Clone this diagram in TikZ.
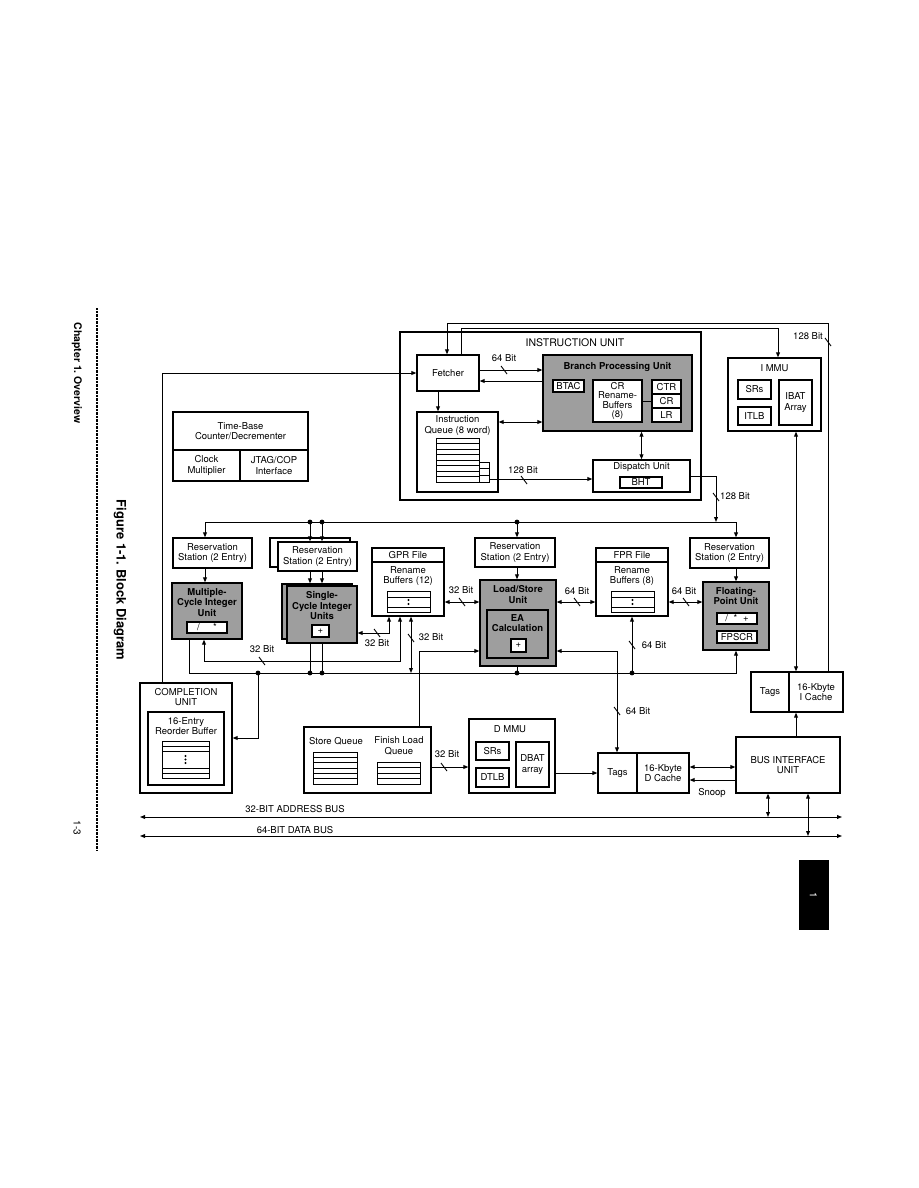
\documentclass[tikz,border=0pt]{standalone}
\usepackage{fontspec}
\setmainfont{TeX Gyre Heros}
\usetikzlibrary{arrows.meta}
\newcommand{\boxfont}{\fontsize{9.5}{10.5}\selectfont}
\newcommand{\renbuf}[2]{%
  \draw[line width=0.8pt] (#1,#2) rectangle ++(43,21);
  \draw[line width=0.8pt] (#1,#2+6) -- ++(43,0) (#1,#2+16) -- ++(43,0);
  \fill (#1+21.5,#2+9) circle (1.2pt) (#1+21.5,#2+13) circle (1.2pt);}

\begin{document}
\begin{tikzpicture}[x=1pt, y=-1pt, line width=1pt,
  sz/.style 2 args={minimum width=#1pt, minimum height=#2pt},
  box/.style={draw, line width=1.2pt, fill=white, inner sep=0pt, align=center, font=\boxfont},
  unit/.style={box, fill=black!38},
  ttl/.style={inner sep=0pt, align=center, font=\boxfont},
  hd/.style={inner sep=0pt, align=center, font=\boxfont\bfseries},
  arr/.style={-{Triangle[length=5pt,width=3.8pt]}},
  darr/.style={{Triangle[length=5pt,width=3.8pt]}-{Triangle[length=5pt,width=3.8pt]}},
  bitmark/.pic={\draw[line width=0.9pt] (-3,-4) -- (3,4);}
]
\useasboundingbox (0,0) rectangle (918,1188);

\node[rotate=-90, font=\fontsize{10.5}{12}\selectfont\bfseries] (chap) at (77,373) {Chapter 1.\ Overview};
\node[rotate=-90, font=\fontsize{13}{15}\selectfont\bfseries] (fig) at (120,580) {Figure 1-1.\ Block Diagram};
\node[rotate=-90, font=\fontsize{10}{12}\selectfont] (pgno) at (77,828) {1-3};
\draw[line width=1.4pt, dash pattern=on 0.7pt off 0.7pt] (97,308) -- (97,850);
\node[fill=black, sz={30}{70}] (tab) at (813.5,895) {};
\node[rotate=-90, text=white, font=\fontsize{10}{12}\selectfont] (tabno) at (tab) {1};

% instruction unit
\node[box, sz={301}{168}] (iu) at (550.5,416) {};
\node[ttl, font=\fontsize{10.5}{12}\selectfont] (iut) at (575,343) {INSTRUCTION UNIT};
\node[box, sz={62}{36}] (fetch) at (448,373) {Fetcher};
\node[unit, sz={149}{76}] (bpu) at (617.5,393) {};
\node[hd] (bput) at (617.5,367) {Branch Processing Unit};
\node[box, sz={31}{12}] (btac) at (568.5,386) {BTAC};
\node[box, sz={49}{42}, font=\fontsize{9.5}{9.6}\selectfont] (crrb) at (617.5,401) {CR\\Rename-\\Buffers\\(8)};
\node[box, sz={29}{14}] (ctr) at (666.5,387) {CTR};
\node[box, sz={29}{14}] (crr) at (666.5,401) {CR};
\node[box, sz={29}{14}] (lr) at (666.5,415) {LR};
\draw (crrb.east) -- (crr.west);
\node[box, sz={81}{80}] (iq) at (457.5,452) {};
\node[ttl] (iqt) at (457.5,425.5) {Instruction\\Queue (8 word)};
\foreach \i in {0,...,7} \draw[line width=0.8pt] (436,{438+5.5*\i}) rectangle ++(43,5.5);
\foreach \i in {0,1,2} \draw[line width=0.8pt] (479,{462+6.67*\i}) rectangle ++(10,6.67);
\coordinate (iqo) at (489,479);
\node[box, sz={97}{32}] (disp) at (641.5,476) {};
\node[ttl] (dispt) at (641.5,467) {Dispatch Unit};
\node[box, sz={42}{11}] (bht) at (641,482.5) {BHT};

% mmu, time base
\node[box, sz={93}{73}] (immu) at (774.5,394.5) {};
\node[ttl] (immut) at (774.5,368) {I MMU};
\node[box, sz={33}{19}] (isr) at (754.5,389.5) {SRs};
\node[box, sz={33}{18}] (itlb) at (754.5,416) {ITLB};
\node[box, sz={33}{45}] (ibat) at (795.5,402.5) {IBAT\\Array};
\node[box, sz={135}{38}] (tbc) at (240.5,431) {Time-Base\\Counter/Decrementer};
\node[box, sz={67}{31}] (clk) at (206.5,465.5) {Clock\\Multiplier};
\node[box, sz={68}{31}] (jtag) at (274,465.5) {JTAG/COP\\Interface};

% reservation stations and execution units
\node[box, sz={79}{30}] (rs1) at (212.5,553) {Reservation\\Station (2 Entry)};
\node[box, sz={80}{29}] (rs2b) at (310,552.5) {};
\node[box, sz={79}{29}] (rs2) at (317.5,556.5) {Reservation\\Station (2 Entry)};
\node[box, sz={80}{29}] (rs3) at (515,552.5) {Reservation\\Station (2 Entry)};
\node[box, sz={79}{30}] (rs4) at (729.5,553) {Reservation\\Station (2 Entry)};
\node[unit, sz={70}{56}] (mciu) at (207,611) {};
\node[hd] (mciut) at (207,602.5) {Multiple-\\Cycle Integer\\Unit};
\node[box, sz={40}{11}] (mdiv) at (207,627.5) {/\hspace{1.4em}*};
\node[unit, sz={70}{55}] (sciub) at (317,611.5) {};
\node[unit, sz={70}{57}] (sciu) at (322,614.5) {};
\node[hd] (sciut) at (322,606) {Single-\\Cycle Integer\\Units};
\node[box, sz={17}{12}] (sadd) at (320.5,631) {+};
\node[unit, sz={76}{86}] (lsu) at (518,623) {};
\node[hd] (lsut) at (518,594.5) {Load/Store\\Unit};
\node[unit, sz={61}{48}] (ea) at (517.5,634) {};
\node[hd] (eat) at (517.5,623) {EA\\Calculation};
\node[box, sz={15}{13}] (eaadd) at (518.5,645.5) {+};
\node[unit, sz={66}{68}] (fpu) at (736,616) {};
\node[hd] (fput) at (736,596) {Floating-\\Point Unit};
\node[box, sz={40}{11}] (fops) at (737,618.5) {/\hspace{0.6em}*\hspace{0.6em}+};
\node[box, sz={40}{12}] (fpscr) at (737,637) {FPSCR};
\node[box, sz={72}{68}] (gpr) at (408,582) {};
\draw[line width=1.2pt] (372,562) -- (444,562);
\node[ttl] (gprt) at (408,555) {GPR File};
\node[ttl] (gprr) at (408,576) {Rename\\Buffers (12)};
\renbuf{387}{591}
\node[box, sz={72}{68}] (fpr) at (632,582) {};
\draw[line width=1.2pt] (596,562) -- (668,562);
\node[ttl] (fprt) at (632,555) {FPR File};
\node[ttl] (fprr) at (632,576) {Rename\\Buffers (8)};
\renbuf{611}{591}

% completion, queues, data side
\node[box, sz={92}{110}] (comp) at (186,738) {};
\node[ttl] (compt) at (186,697) {COMPLETION\\UNIT};
\node[box, sz={76}{73}] (rob) at (186,748.5) {};
\node[ttl] (robt) at (186,726) {16-Entry\\Reorder Buffer};
\draw[line width=0.8pt] (162,741) rectangle (209,778);
\draw[line width=0.8pt] (162,746) -- (209,746) (162,751) -- (209,751) (162,768) -- (209,768) (162,773) -- (209,773);
\fill (185.5,756) circle (1.2pt) (185.5,759.5) circle (1.2pt) (185.5,763) circle (1.2pt);
\node[box, sz={127}{66}] (sq) at (367.5,760) {};
\node[ttl] (sqt) at (336,741) {Store Queue};
\node[ttl] (flqt) at (399,746) {Finish Load\\Queue};
\foreach \i in {0,...,5} \draw[line width=0.8pt] (313,{752+5.33*\i}) rectangle ++(44,5.33);
\foreach \i in {0,...,3} \draw[line width=0.8pt] (377,{762+5.5*\i}) rectangle ++(43,5.5);
\node[box, sz={86}{74}] (dmmu) at (512,756) {};
\node[ttl] (dmmut) at (510,729) {D MMU};
\node[box, sz={33}{18}] (dsr) at (492.5,751) {SRs};
\node[box, sz={33}{19}] (dtlb) at (492.5,777.5) {DTLB};
\node[box, sz={33}{45}] (dbat) at (532.5,764.5) {DBAT\\array};
\node[box, sz={39}{40}] (dtags) at (617.5,773) {Tags};
\node[box, sz={52}{40}] (dcache) at (663,773) {16-Kbyte\\D Cache};
\node[box, sz={104}{56}] (biu) at (788,765) {BUS INTERFACE\\UNIT};
\node[box, sz={38}{40}] (itags) at (770,692) {Tags};
\node[box, sz={54}{40}] (icache) at (816,692) {16-Kbyte\\I Cache};

% wire points
\coordinate (wc) at (162,373);
\coordinate (ta) at (828,323);
\coordinate (tb) at (447,323);
\coordinate (ua) at (461,328);
\coordinate (ub) at (778,328);
\coordinate (q1) at (520,422);
\coordinate (q2) at (438,400);
\coordinate (dd) at (716,522);
\coordinate (d1) at (205,522);
\coordinate (d2) at (310,522);
\coordinate (d3) at (322,522);
\coordinate (d4) at (517,522);
\coordinate (d5) at (736,522);
\coordinate (r0) at (189,673);
\coordinate (rc) at (258,673);
\coordinate (r2) at (310,673);
\coordinate (r3) at (322,673);
\coordinate (rg) at (411,673);
\coordinate (rl) at (517,673);
\coordinate (rf) at (632,673);
\coordinate (r5) at (736,673);
\coordinate (g1) at (460,602);
\coordinate (s1) at (389,633);
\coordinate (m1) at (400,661);
\coordinate (m2) at (204,661);
\coordinate (l1) at (419,651);
\coordinate (l2) at (617,651);
\coordinate (k1) at (450,767);
\coordinate (k2) at (710,767);
\coordinate (k3) at (710,780);
\coordinate (k4) at (796,600);
\coordinate (ab1) at (140,817);
\coordinate (ab2) at (842,817);
\coordinate (ab3) at (768,817);
\coordinate (db1) at (140,836);
\coordinate (db2) at (842,836);
\coordinate (db3) at (808,836);

% instruction side wires
\draw[arr] (comp.north -| wc) -- (wc) -- (fetch.west);
\draw[arr] (icache.north -| ta) -- (ta) -- (tb) -- (fetch.north -| tb);
\draw[arr] (fetch.north -| ua) -- (ua) -- (ub) -- (immu.north -| ub);
\draw[arr] ([yshift=3pt]fetch.east) -- ([yshift=3pt]fetch.east -| bpu.west);
\draw[arr] ([yshift=-8pt]fetch.east -| bpu.west) -- ([yshift=-8pt]fetch.east);
\draw[darr] (iq.east |- q1) -- (bpu.west |- q1);
\draw[arr] (fetch.south -| q2) -- (iq.north -| q2);
\draw[darr] (bpu.south -| disp.north) -- (disp.north);
\draw[arr] (iqo) -- (disp.west |- iqo);
\draw[arr] (disp.east) -| (dd);
\draw[darr] (immu.south -| k4) -- (icache.north -| k4);
\draw[arr] (biu.north -| k4) -- (icache.south -| k4);

% dispatch bus
\draw (d1) -- (d5);
\draw[arr] (d1) -- (rs1.north -| d1);
\draw[arr] (d2) -- (rs2.north -| d2);
\draw[arr] (d3) -- (rs2.north -| d3);
\draw[arr] (d4) -- (rs3.north -| d4);
\draw[arr] (d5) -- (rs4.north -| d5);
\draw[arr] (rs1.south -| d1) -- (mciu.north -| d1);
\draw[arr] (rs2.south -| d2) -- (sciub.north -| d2);
\draw[arr] (rs2.south -| d3) -- (sciub.north -| d3);
\draw[arr] (rs3.south -| d4) -- (lsu.north -| d4);
\draw[arr] (rs4.south -| d5) -- (fpu.north -| d5);
\fill (d2) circle (2.4pt) (d3) circle (2.4pt) (d4) circle (2.4pt);

% register files and result bus
\draw[darr] (gpr.east |- g1) -- (lsu.west |- g1);
\draw[darr] (lsu.east |- g1) -- (fpr.west |- g1);
\draw[darr] (fpr.east |- g1) -- (fpu.west |- g1);
\draw[darr] (sciu.east |- s1) -- (s1) -- (gpr.south -| s1);
\draw[darr] (gpr.south -| m1) -- (m1) -- (m2) -- (mciu.south -| m2);
\draw[darr] (gpr.south -| rg) -- (rg);
\draw[arr] (mciu.south -| r0) -- (r0) -- (r5) -- (fpu.south -| r5);
\draw (sciu.south -| r2) -- (r2);
\draw (sciu.south -| r3) -- (r3);
\draw (lsu.south -| rl) -- (rl);
\draw[arr] (rf) -- (fpr.south -| rf);
\draw[arr] (rc) |- (comp.east);
\fill (rc) circle (2.4pt) (r2) circle (2.4pt) (r3) circle (2.4pt) (rl) circle (2.4pt) (rf) circle (2.4pt);
\draw[arr] (sq.north -| l1) -- (l1) -- (lsu.west |- l1);
\draw[darr] (dtags.north -| l2) -- (l2) -- (lsu.east |- l2);

% data side and buses
\draw[arr] (sq.east |- k1) -- (dmmu.west |- k1);
\draw[arr] (dmmu.east |- dtags.west) -- (dtags.west);
\draw[darr] (dcache.east |- k2) -- (biu.west |- k2);
\draw[arr] (biu.west |- k3) -- (dcache.east |- k3);
\draw[darr] (ab1) -- (ab2);
\draw[darr] (db1) -- (db2);
\draw[darr] (biu.south -| ab3) -- (ab3);
\draw[darr] (biu.south -| db3) -- (db3);

% labels
\node[ttl] (b1) at (504,358) {64 Bit};        \pic at (504,370) {bitmark};
\node[ttl] (b2) at (523,470) {128 Bit};       \pic at (524,480) {bitmark};
\node[ttl] (b3) at (735,496) {128 Bit};       \pic at (716,497) {bitmark};
\node[ttl] (b4) at (808,336) {128 Bit};       \pic at (828,342) {bitmark};
\node[ttl] (b5) at (461,590) {32 Bit};        \pic at (462,602) {bitmark};
\node[ttl] (b6) at (577,591) {64 Bit};        \pic at (577,602) {bitmark};
\node[ttl] (b7) at (684,591) {64 Bit};        \pic at (686,602) {bitmark};
\node[ttl] (b8) at (377,643) {32 Bit};        \pic at (377,633) {bitmark};
\node[ttl] (b9) at (262,649) {32 Bit};        \pic at (262,661) {bitmark};
\node[ttl] (b10) at (431,637) {32 Bit};       \pic at (411,638) {bitmark};
\node[ttl] (b11) at (654,645) {64 Bit};       \pic at (632,645) {bitmark};
\node[ttl] (b12) at (638,711) {64 Bit};       \pic at (617,711) {bitmark};
\node[ttl] (b13) at (447,754) {32 Bit};       \pic at (444,767) {bitmark};
\node[ttl] (snoop) at (712,793) {Snoop};
\node[ttl] (abl) at (295,809) {32-BIT ADDRESS BUS};
\node[ttl] (dbl) at (295,830) {64-BIT DATA BUS};
\end{tikzpicture}
\end{document}
